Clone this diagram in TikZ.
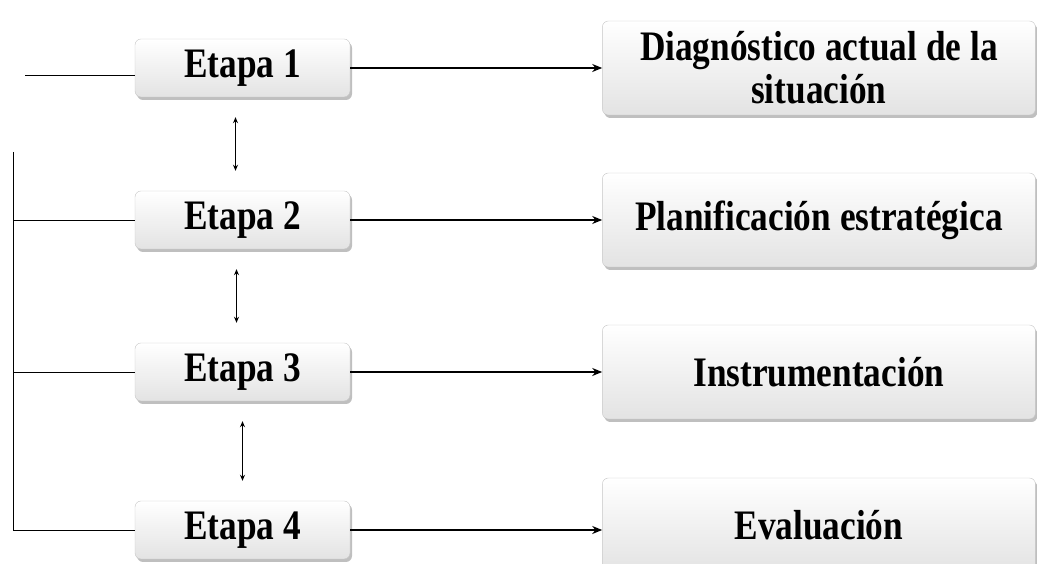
\documentclass[tikz,border=0pt]{standalone}
\usepackage{fontspec}
\setmainfont{Liberation Serif}[FakeStretch=0.84]
\usetikzlibrary{positioning,shadows,arrows.meta}

\begin{document}
\begin{tikzpicture}[x=1pt,y=1pt,node distance=152pt,
    main node/.style={rounded corners=6pt,draw=gray!45,top color=white,
      bottom color=gray!22,drop shadow={opacity=0.5,shadow xshift=2pt,shadow yshift=-3pt},
      minimum width=215pt,minimum height=58pt,inner sep=2pt,
      font=\fontsize{42}{43}\selectfont\bfseries},
    result node/.style={main node,minimum width=433pt,minimum height=94pt,align=center},
    link/.style={line width=2pt,-{Stealth[length=10pt,width=8pt]}},
    both/.style={line width=1pt,{Stealth[length=6pt,width=5pt]}-{Stealth[length=6pt,width=5pt]},
      shorten <=20pt,shorten >=20pt}]

    \useasboundingbox (0,0) rectangle (1037,564);

    \node[main node] (1) at (242.5,496) {Etapa 1};
    \node[main node] (2) [below of=1] {Etapa 2};
    \node[main node] (3) [below of=2] {Etapa 3};
    \node[main node] (4) [below of=3,node distance=158pt] {Etapa 4};

    \node[result node] (5) [right=252pt of 1] {Diagnóstico actual de la\\situación};
    \node[result node] (6) [right=252pt of 2] {Planificación estratégica};
    \node[result node] (7) [right=252pt of 3] {Instrumentación};
    \node[result node] (8) [right=252pt of 4,yshift=5pt] {Evaluación};

    \path[draw,link] (1) -- (5);
    \path[draw,link,line width=1.4pt] (2) -- (6);
    \path[draw,link] (3) -- (7);
    \path[draw,link] (4) -- (4 -| 8.west);

    \draw[both] ([xshift=-7pt]1.south) -- ([xshift=-7pt]2.north);
    \draw[both] ([xshift=-6pt]2.south) -- ([xshift=-6pt]3.north);
    \draw[both] (3.south) -- (4.north);

    % left side
    \coordinate (c1) at (25,489);
    \coordinate (top) at (13,412);
    \draw[line width=0.8pt] (c1) -- (c1 -| 1.west);
    \draw[line width=0.8pt] (top) |- (4.west);
    \draw[line width=0.8pt] (top |- 2) -- (2.west);
    \draw[line width=0.8pt] (top |- 3) -- (3.west);
    \end{tikzpicture}
\end{document}
